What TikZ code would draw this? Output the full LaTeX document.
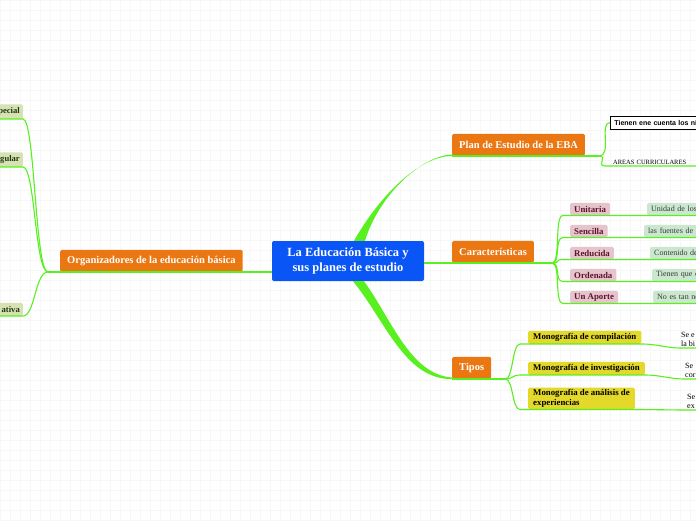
\documentclass[tikz,border=0pt]{standalone}
\usepackage{fontspec}
\setmainfont{Liberation Serif}
\newfontfamily\sansbox{Liberation Sans}
\usepackage{tikz}

\definecolor{eduBlue}{RGB}{10,85,245}
\definecolor{eduOrange}{RGB}{235,119,18}
\definecolor{linkGreen}{RGB}{88,240,30}
\definecolor{tipoYellow}{RGB}{228,216,42}
\definecolor{caracPink}{RGB}{229,196,204}
\definecolor{caracText}{RGB}{95,20,45}
\definecolor{hojaGreen}{RGB}{204,231,208}
\definecolor{hojaText}{RGB}{50,62,50}
\definecolor{orgGreen}{RGB}{214,226,178}
\definecolor{orgText}{RGB}{35,55,20}

\begin{document}
\begin{tikzpicture}[x=1pt,y=-1pt,
  link/.style={draw=linkGreen,line width=1.1pt},
  central/.style={rectangle,rounded corners=2pt,fill=eduBlue,text=white,align=center,
    font=\fontsize{12.5}{15}\selectfont\bfseries,minimum width=152pt,minimum height=40pt},
  branch/.style={rectangle,rounded corners=1.5pt,fill=eduOrange,text=white,anchor=south west,
    font=\fontsize{10.5}{12}\selectfont\bfseries,minimum height=22pt,inner xsep=7pt},
  orgleaf/.style={rectangle,rounded corners=1.5pt,fill=orgGreen,text=orgText,anchor=south east,
    font=\fontsize{8.6}{10}\selectfont\bfseries,minimum height=13pt,inner xsep=3pt},
  nota/.style={rectangle,draw=black,fill=white,line width=0.8pt,anchor=west,align=left,
    font=\sansbox\fontsize{7}{8}\selectfont\bfseries,minimum height=13pt,text width=100pt,inner xsep=4pt},
  areastxt/.style={anchor=south west,font=\fontsize{6.5}{7}\selectfont,inner sep=1pt,text width=82pt},
  carac/.style={rectangle,rounded corners=1.5pt,fill=caracPink,text=caracText,anchor=south west,
    font=\fontsize{8.8}{10}\selectfont\bfseries,minimum height=12.5pt,inner xsep=4pt,inner ysep=1pt},
  hoja/.style={rectangle,rounded corners=1.5pt,fill=hojaGreen,text=hojaText,anchor=south west,
    font=\fontsize{8}{9}\selectfont,minimum height=12.5pt,inner xsep=4pt,inner ysep=1pt,
    text width=56pt,align=left},
  tipo/.style={rectangle,rounded corners=1.5pt,fill=tipoYellow,anchor=south west,align=left,
    font=\fontsize{8.8}{10.5}\selectfont\bfseries,minimum height=13pt,inner xsep=5pt,inner ysep=1.5pt},
  seleaf/.style={anchor=south west,align=left,font=\fontsize{8}{9}\selectfont,inner xsep=0pt,inner ysep=1.5pt}]
\useasboundingbox (0,0) rectangle (696,520);
\clip (0,0) rectangle (696,520);
\fill[white] (0,0) rectangle (696,520);
\draw[black!3,line width=0.4pt,step=10pt] (0,0) grid (696,520);

% centre and main branches
\node[central] (edu) at (348,261) {La Educación Básica y\\sus planes de estudio};
\node[branch] (org) at (60,272) {Organizadores de la educación básica};
\node[branch] (plan) at (452,156) {Plan de Estudio de la EBA};
\node[branch] (car) at (452,263) {Características};
\node[branch] (tipos) at (452,379) {Tipos};

\node[orgleaf] (esp) at (23,119) {pecial};
\node[orgleaf] (reg) at (23,167) {gular};
\node[orgleaf] (alt) at (23,316) {ativa};

\node[nota] (tienen) at (610,122.5) {Tienen ene cuenta los ni};
\node[areastxt] (areas) at (612,166) {AREAS CURRICULARES};

\node[carac] (uni) at (570,215.5) {Unitaria};
\node[carac] (sen) at (570,237.5) {Sencilla};
\node[carac] (red) at (570,259.5) {Reducida};
\node[carac] (ord) at (570,281.5) {Ordenada};
\node[carac] (apo) at (570,303.5) {Un Aporte};

\node[hoja] (uniH) at (647,215.5) {Unidad de los};
\node[hoja] (senH) at (644,237.5) {las fuentes de};
\node[hoja] (redH) at (650,259.5) {Contenido de};
\node[hoja] (ordH) at (652,281.5) {Tienen que e};
\node[hoja] (apoH) at (653,303.5) {No es tan ne};

\node[tipo] (comp) at (528,344) {Monografía de compilación};
\node[tipo] (inv) at (528,375) {Monografía de investigación};
\node[tipo] (ana) at (528,409.5) {Monografía de análisis de\\experiencias};

\node[seleaf] (se1) at (681,348) {Se e\\la bi};
\node[seleaf] (se2) at (685,379) {Se\\cor};
\node[seleaf] (se3) at (687,410) {Se\\ex};

\coordinate (orgfork) at ([xshift=-12pt]org.south west);
\coordinate (planfork) at ([xshift=14pt]plan.south east);
\coordinate (carfork) at ([xshift=18pt]car.south east);
\coordinate (tipofork) at ([xshift=14pt]tipos.south east);

% thick trunks
\fill[linkGreen] ([xshift=6pt]edu.north) .. controls +(26,-46) and +(-32,0) .. (plan.south west)
  -- ([yshift=1.5pt]plan.south west) .. controls +(-30,1) and +(14,-46) .. ([xshift=17pt]edu.north) -- cycle;
\fill[linkGreen] ([xshift=5pt]edu.south) .. controls +(32,39) and +(-47,1) .. (tipos.south west)
  -- ([yshift=1.5pt]tipos.south west) .. controls +(-42,-3) and +(27,37) .. ([xshift=16pt]edu.south) -- cycle;

\draw[link] (edu.west |- org.south) -- (org.south east) -- (org.south west) -- (orgfork);
\draw[link] (edu.east |- car.south) -- (car.south west) -- (car.south east) -- (carfork);
\draw[link] (plan.south west) -- (plan.south east) -- (planfork);
\draw[link] (tipos.south west) -- (tipos.south east) -- (tipofork);

\foreach \p in {esp,reg,alt}
  \draw[link] (orgfork) .. controls +(-13,0) and +(12,0) .. (\p.south east) -- (\p.south west);

\draw[link] (planfork) .. controls +(13,0) and +(-11,0) .. (tienen.west);
\draw[link] (planfork) .. controls +(9,0) and +(-9,0) .. ([xshift=-7pt]areas.south west) -- ([xshift=4pt]areas.south east);

\foreach \p/\h in {uni/uniH,sen/senH,red/redH,ord/ordH,apo/apoH}
  \draw[link] (carfork) .. controls +(9,0) and +(-9,0) .. ([xshift=-7pt]\p.south west) -- (\p.south east)
    .. controls +(12,0) and +(-12,0) .. (\h.south west) -- (\h.south east);

\foreach \t/\s in {comp/se1,inv/se2,ana/se3}
  \draw[link] (tipofork) .. controls +(8,0) and +(-8,0) .. ([xshift=-8pt]\t.south west) -- (\t.south east)
    .. controls +(16,0) and +(-16,0) .. (\s.south west) -- ([xshift=16pt]\s.south west);
\end{tikzpicture}
\end{document}
